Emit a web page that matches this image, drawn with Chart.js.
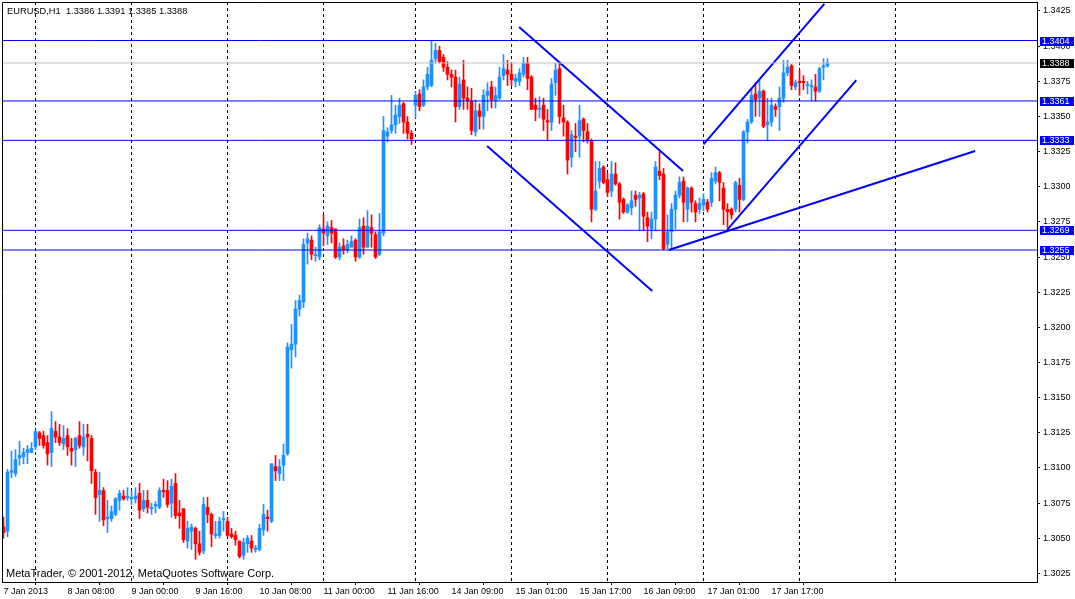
<!DOCTYPE html>
<html>
<head>
<meta charset="utf-8">
<title>EURUSD,H1</title>
<script src="https://cdn.jsdelivr.net/npm/chart.js@4.4.1/dist/chart.umd.min.js"></script>
<style>
  html, body { margin: 0; padding: 0; background: #fff; }
  #wrap { width: 1075px; height: 599px; }
</style>
</head>
<body>
<div id="wrap"><canvas id="mycanvas" width="1075" height="599"></canvas></div>
<script>
// EURUSD H1 candles, 7 Jan 2013 16:00 .. 18 Jan 2013 (one entry per hour bar)
var opens = [
  1.3058,1.3055,1.3097,1.3096,1.3107,1.3108,1.3111,1.3111,1.3115,1.3125,
  1.3123,1.3118,1.3111,1.3126,1.3122,1.3117,1.3123,1.3114,1.3113,1.3123,
  1.3115,1.3124,1.3121,1.3097,1.3081,1.3084,1.3064,1.3064,1.3067,1.3077,
  1.3080,1.3079,1.3078,1.3078,1.3082,1.3071,1.3077,1.3071,1.3073,1.3072,
  1.3084,1.3084,1.3075,1.3089,1.3068,1.3071,1.3048,1.3055,1.3057,1.3046,
  1.3041,1.3072,1.3067,1.3052,1.3052,1.3063,1.3062,1.3053,1.3052,1.3048,
  1.3038,1.3046,1.3048,1.3042,1.3042,1.3056,1.3065,1.3062,1.3101,1.3096,
  1.3102,1.3110,1.3184,1.3188,1.3213,1.3218,1.3260,1.3262,1.3251,1.3250,
  1.3270,1.3265,1.3271,1.3270,1.3250,1.3258,1.3255,1.3257,1.3262,1.3250,
  1.3272,1.3257,1.3271,1.3266,1.3252,1.3267,1.3336,1.3340,1.3344,1.3350,
  1.3359,1.3346,1.3338,1.3358,1.3366,1.3358,1.3371,1.3372,1.3391,1.3397,
  1.3392,1.3385,1.3380,1.3378,1.3357,1.3376,1.3363,1.3361,1.3339,1.3354,
  1.3350,1.3365,1.3371,1.3361,1.3363,1.3379,1.3383,1.3380,1.3375,1.3375,
  1.3380,1.3388,1.3378,1.3358,1.3355,1.3358,1.3347,1.3346,1.3374,1.3384,
  1.3349,1.3346,1.3321,1.3336,1.3336,1.3348,1.3339,1.3333,1.3284,1.3304,
  1.3314,1.3305,1.3297,1.3309,1.3302,1.3291,1.3282,1.3285,1.3294,1.3292,
  1.3295,1.3278,1.3270,1.3277,1.3311,1.3309,1.3259,1.3268,1.3284,1.3294,
  1.3304,1.3284,1.3299,1.3288,1.3284,1.3287,1.3289,1.3289,1.3304,1.3310,
  1.3299,1.3284,1.3284,1.3284,1.3301,1.3291,1.3339,1.3346,1.3366,1.3363,
  1.3368,1.3344,1.3346,1.3357,1.3357,1.3363,1.3381,1.3386,1.3371,1.3375,
  1.3375,1.3372,1.3371,1.3371,1.3368,1.3385,1.3386
];
var highs = [
  1.3065,1.3099,1.3112,1.3113,1.3119,1.3114,1.3116,1.3118,1.3127,1.3126,
  1.3126,1.3123,1.3140,1.3133,1.3131,1.3130,1.3128,1.3121,1.3122,1.3133,
  1.3131,1.3131,1.3123,1.3099,1.3097,1.3086,1.3077,1.3073,1.3079,1.3084,
  1.3084,1.3086,1.3084,1.3086,1.3089,1.3084,1.3084,1.3075,1.3076,1.3086,
  1.3092,1.3091,1.3092,1.3096,1.3077,1.3071,1.3062,1.3060,1.3058,1.3055,
  1.3079,1.3079,1.3068,1.3062,1.3065,1.3069,1.3065,1.3057,1.3055,1.3048,
  1.3050,1.3052,1.3052,1.3045,1.3060,1.3074,1.3070,1.3103,1.3109,1.3106,
  1.3117,1.3189,1.3202,1.3219,1.3223,1.3263,1.3267,1.3265,1.3257,1.3273,
  1.3280,1.3275,1.3276,1.3270,1.3260,1.3263,1.3262,1.3265,1.3263,1.3277,
  1.3278,1.3283,1.3280,1.3268,1.3281,1.3350,1.3342,1.3365,1.3358,1.3363,
  1.3360,1.3350,1.3340,1.3368,1.3369,1.3376,1.3385,1.3404,1.3402,1.3400,
  1.3394,1.3389,1.3383,1.3383,1.3378,1.3390,1.3371,1.3370,1.3362,1.3359,
  1.3369,1.3374,1.3375,1.3371,1.3385,1.3394,1.3390,1.3388,1.3380,1.3384,
  1.3392,1.3392,1.3379,1.3363,1.3364,1.3363,1.3355,1.3377,1.3388,1.3389,
  1.3358,1.3347,1.3340,1.3345,1.3358,1.3349,1.3345,1.3334,1.3318,1.3318,
  1.3315,1.3310,1.3318,1.3317,1.3303,1.3292,1.3288,1.3297,1.3297,1.3296,
  1.3296,1.3282,1.3282,1.3318,1.3325,1.3313,1.3280,1.3288,1.3297,1.3307,
  1.3307,1.3300,1.3300,1.3290,1.3292,1.3295,1.3291,1.3310,1.3314,1.3311,
  1.3303,1.3288,1.3285,1.3304,1.3306,1.3340,1.3348,1.3370,1.3374,1.3376,
  1.3369,1.3363,1.3363,1.3359,1.3371,1.3390,1.3390,1.3387,1.3376,1.3383,
  1.3379,1.3375,1.3376,1.3380,1.3385,1.3391,1.3391
];
var lows = [
  1.3050,1.3051,1.3093,1.3094,1.3102,1.3103,1.3103,1.3111,1.3113,1.3116,
  1.3114,1.3102,1.3101,1.3118,1.3116,1.3113,1.3109,1.3102,1.3101,1.3114,
  1.3109,1.3105,1.3089,1.3067,1.3062,1.3059,1.3054,1.3062,1.3066,1.3070,
  1.3077,1.3077,1.3074,1.3075,1.3064,1.3069,1.3068,1.3067,1.3068,1.3071,
  1.3079,1.3072,1.3065,1.3064,1.3057,1.3047,1.3043,1.3042,1.3035,1.3038,
  1.3039,1.3061,1.3044,1.3050,1.3050,1.3055,1.3051,1.3050,1.3045,1.3036,
  1.3035,1.3040,1.3040,1.3040,1.3041,1.3052,1.3055,1.3061,1.3091,1.3091,
  1.3091,1.3109,1.3171,1.3179,1.3208,1.3214,1.3245,1.3248,1.3247,1.3248,
  1.3258,1.3259,1.3260,1.3249,1.3248,1.3252,1.3253,1.3257,1.3247,1.3249,
  1.3252,1.3257,1.3257,1.3249,1.3251,1.3265,1.3332,1.3338,1.3338,1.3345,
  1.3338,1.3334,1.3330,1.3349,1.3354,1.3357,1.3369,1.3371,1.3388,1.3388,
  1.3382,1.3376,1.3371,1.3346,1.3355,1.3355,1.3355,1.3337,1.3336,1.3341,
  1.3341,1.3354,1.3356,1.3356,1.3362,1.3376,1.3372,1.3372,1.3371,1.3372,
  1.3378,1.3369,1.3355,1.3347,1.3349,1.3340,1.3333,1.3340,1.3365,1.3345,
  1.3336,1.3309,1.3314,1.3325,1.3321,1.3332,1.3331,1.3275,1.3283,1.3299,
  1.3302,1.3293,1.3293,1.3301,1.3277,1.3281,1.3281,1.3280,1.3286,1.3269,
  1.3269,1.3261,1.3263,1.3269,1.3305,1.3255,1.3256,1.3256,1.3270,1.3292,
  1.3275,1.3275,1.3282,1.3275,1.3281,1.3283,1.3282,1.3286,1.3302,1.3290,
  1.3273,1.3271,1.3277,1.3282,1.3282,1.3290,1.3331,1.3345,1.3350,1.3350,
  1.3342,1.3333,1.3343,1.3350,1.3340,1.3360,1.3379,1.3369,1.3369,1.3365,
  1.3369,1.3366,1.3361,1.3361,1.3367,1.3376,1.3385
];
var closes = [
  1.3054,1.3097,1.3098,1.3106,1.3109,1.3111,1.3113,1.3114,1.3126,1.3121,
  1.3116,1.3110,1.3128,1.3122,1.3118,1.3121,1.3115,1.3112,1.3121,1.3116,
  1.3122,1.3122,1.3098,1.3079,1.3084,1.3063,1.3065,1.3069,1.3078,1.3082,
  1.3078,1.3079,1.3079,1.3080,1.3070,1.3077,1.3072,1.3072,1.3074,1.3084,
  1.3083,1.3074,1.3087,1.3066,1.3066,1.3049,1.3057,1.3058,1.3046,1.3040,
  1.3074,1.3067,1.3053,1.3053,1.3062,1.3064,1.3052,1.3051,1.3049,1.3037,
  1.3047,1.3050,1.3043,1.3043,1.3057,1.3067,1.3064,1.3103,1.3098,1.3101,
  1.3109,1.3186,1.3188,1.3213,1.3219,1.3259,1.3263,1.3252,1.3251,1.3271,
  1.3267,1.3272,1.3267,1.3250,1.3257,1.3255,1.3259,1.3261,1.3250,1.3271,
  1.3257,1.3272,1.3267,1.3250,1.3268,1.3340,1.3339,1.3344,1.3351,1.3358,
  1.3346,1.3338,1.3334,1.3365,1.3357,1.3371,1.3380,1.3390,1.3397,1.3389,
  1.3385,1.3380,1.3378,1.3357,1.3373,1.3363,1.3361,1.3340,1.3354,1.3350,
  1.3365,1.3368,1.3362,1.3365,1.3378,1.3384,1.3380,1.3376,1.3377,1.3381,
  1.3388,1.3377,1.3355,1.3355,1.3356,1.3348,1.3346,1.3373,1.3383,1.3350,
  1.3346,1.3319,1.3337,1.3335,1.3347,1.3340,1.3333,1.3284,1.3297,1.3313,
  1.3303,1.3296,1.3309,1.3302,1.3289,1.3282,1.3287,1.3290,1.3291,1.3294,
  1.3279,1.3272,1.3277,1.3314,1.3308,1.3256,1.3268,1.3284,1.3294,1.3303,
  1.3289,1.3299,1.3289,1.3282,1.3288,1.3291,1.3284,1.3306,1.3310,1.3303,
  1.3284,1.3282,1.3280,1.3303,1.3291,1.3339,1.3346,1.3365,1.3362,1.3368,
  1.3343,1.3346,1.3358,1.3355,1.3363,1.3381,1.3385,1.3372,1.3374,1.3374,
  1.3374,1.3373,1.3372,1.3368,1.3384,1.3386,1.3388
];

// time axis labels (bar index -> text) and day separators (bar index)
var xTickIdx = [0, 16, 32, 48, 64, 80, 96, 112, 128, 144, 160, 176, 192];
var xTickText = ['7 Jan 2013', '8 Jan 08:00', '9 Jan 00:00', '9 Jan 16:00', '10 Jan 08:00',
  '11 Jan 00:00', '11 Jan 16:00', '14 Jan 09:00', '15 Jan 01:00', '15 Jan 17:00',
  '16 Jan 09:00', '17 Jan 01:00', '17 Jan 17:00'];
var dayBreaks = [8, 32, 56, 80, 103, 127, 151, 175, 199, 223];

// price axis
var yTicks = [1.3025, 1.3050, 1.3075, 1.3100, 1.3125, 1.3150, 1.3175, 1.3200, 1.3225,
  1.3250, 1.3275, 1.3300, 1.3325, 1.3350, 1.3375, 1.3400, 1.3425];

// horizontal levels and current bid
var levels = [1.3404, 1.3361, 1.3333, 1.3269, 1.3255];
var bidPrice = 1.3388;

// trend lines: [bar index, price] start / end
var trendStart = [[128.9, 1.34136], [120.9, 1.33290], [175.0, 1.33302], [180.85, 1.32692], [166.3, 1.32550]];
var trendEnd = [[169.9, 1.33112], [162.2, 1.32259], [205.2, 1.34300], [213.2, 1.33759], [242.9, 1.33254]];

var UP = '#1E90FF';
var DOWN = '#FF0000';
var LINE = '#0000FF';
var FONT = "'Liberation Sans', Arial, sans-serif";

var X_MIN = -0.375, X_MAX = 258.375;
var Y_MIN = 1.301888, Y_MAX = 1.343140;

var idx = opens.map(function(v, i) { return i; });
var candleColors = idx.map(function(i) { return closes[i] >= opens[i] ? UP : DOWN; });

var datasets = [];

levels.forEach(function(lv) {
  datasets.push({
    type: 'line', data: [{x: X_MIN, y: lv}, {x: X_MAX, y: lv}],
    borderColor: LINE, borderWidth: 1, pointRadius: 0, order: 0
  });
});
datasets.push({
  type: 'line', data: [{x: X_MIN, y: bidPrice}, {x: X_MAX, y: bidPrice}],
  borderColor: '#C0C0C0', borderWidth: 1, pointRadius: 0, order: 0
});
trendStart.forEach(function(s, k) {
  datasets.push({
    type: 'line', data: [{x: s[0], y: s[1]}, {x: trendEnd[k][0], y: trendEnd[k][1]}],
    borderColor: LINE, borderWidth: 2, pointRadius: 0, order: 0
  });
});
datasets.push({
  type: 'bar',
  data: idx.map(function(i) { return {x: i, y: [opens[i], closes[i]]}; }),
  backgroundColor: candleColors, barThickness: 3, minBarLength: 1,
  grouped: false, borderWidth: 0, order: 1
});
datasets.push({
  type: 'bar',
  data: idx.map(function(i) { return {x: i, y: [lows[i], highs[i]]}; }),
  backgroundColor: candleColors, barThickness: 1,
  grouped: false, borderWidth: 0, order: 2
});

var decor = {
  id: 'decor',
  beforeDatasetsDraw: function(chart) {
    var ctx = chart.ctx, a = chart.chartArea, x = chart.scales.x;
    ctx.save();
    ctx.strokeStyle = '#000';
    ctx.lineWidth = 1;
    ctx.setLineDash([3, 3]);
    dayBreaks.forEach(function(d) {
      var px = Math.floor(x.getPixelForValue(d)) + 0.5;
      ctx.beginPath();
      ctx.moveTo(px, a.top);
      ctx.lineTo(px, a.bottom);
      ctx.stroke();
    });
    ctx.restore();
  },
  afterDraw: function(chart) {
    var ctx = chart.ctx, a = chart.chartArea, y = chart.scales.y;
    ctx.save();
    // left and top frame
    ctx.strokeStyle = '#000';
    ctx.lineWidth = 1;
    ctx.beginPath();
    ctx.moveTo(a.left + 0.5, a.bottom);
    ctx.lineTo(a.left + 0.5, a.top + 0.5);
    ctx.lineTo(a.right, a.top + 0.5);
    ctx.stroke();

    ctx.fillStyle = '#000';
    ctx.textBaseline = 'middle';
    ctx.textAlign = 'left';
    ctx.font = '9.3px ' + FONT;
    ctx.fillText('EURUSD,H1  1.3386 1.3391 1.3385 1.3388', 7, 11);
    ctx.font = '11px ' + FONT;
    ctx.fillText('MetaTrader, \u00A9 2001-2012, MetaQuotes Software Corp.', 6, 574);

    // price tags on the right axis
    ctx.font = '9px ' + FONT;
    function tag(v, bg) {
      var py = Math.round(y.getPixelForValue(v));
      ctx.fillStyle = bg;
      ctx.fillRect(a.right + 3, py - 4, 34, 9);
      ctx.fillStyle = '#fff';
      ctx.fillText(v.toFixed(4), a.right + 5, py + 0.5);
    }
    levels.forEach(function(lv) { tag(lv, LINE); });
    tag(bidPrice, '#000');
    ctx.restore();
  }
};

var ctx = document.getElementById('mycanvas');
var chart = new Chart(ctx, {
  type: 'bar',
  data: { datasets: datasets },
  plugins: [decor],
  options: {
    responsive: false,
    devicePixelRatio: 1,
    animation: false,
    layout: { padding: { left: 2, top: 2, right: 0, bottom: 0 }, autoPadding: false },
    plugins: { legend: { display: false }, tooltip: { enabled: false } },
    scales: {
      x: {
        type: 'linear', min: X_MIN, max: X_MAX, offset: false,
        afterBuildTicks: function(scale) {
          scale.ticks = xTickIdx.map(function(v) { return {value: v}; });
        },
        afterFit: function(scale) {
          scale.height = 17;
          scale.paddingLeft = 0;
          scale.paddingRight = 0;
        },
        ticks: {
          autoSkip: false, maxRotation: 0, align: 'start', padding: 1,
          color: '#000', font: { family: FONT, size: 9 },
          callback: function(v) { return xTickText[xTickIdx.indexOf(v)]; }
        },
        grid: { drawOnChartArea: false, drawTicks: true, tickLength: 3, color: '#000' },
        border: { display: true, color: '#000', width: 1 }
      },
      y: {
        type: 'linear', position: 'right', min: Y_MIN, max: Y_MAX,
        afterBuildTicks: function(scale) {
          scale.ticks = yTicks.map(function(v) { return {value: v}; });
        },
        afterFit: function(scale) {
          scale.width = 38;
          scale.paddingTop = 0;
          scale.paddingBottom = 0;
        },
        ticks: {
          padding: 3, color: '#000', font: { family: FONT, size: 9 },
          callback: function(v) { return Number(v).toFixed(4); }
        },
        grid: { drawOnChartArea: false, drawTicks: true, tickLength: 3, color: '#000' },
        border: { display: true, color: '#000', width: 1 }
      }
    }
  }
});
</script>
</body>
</html>
